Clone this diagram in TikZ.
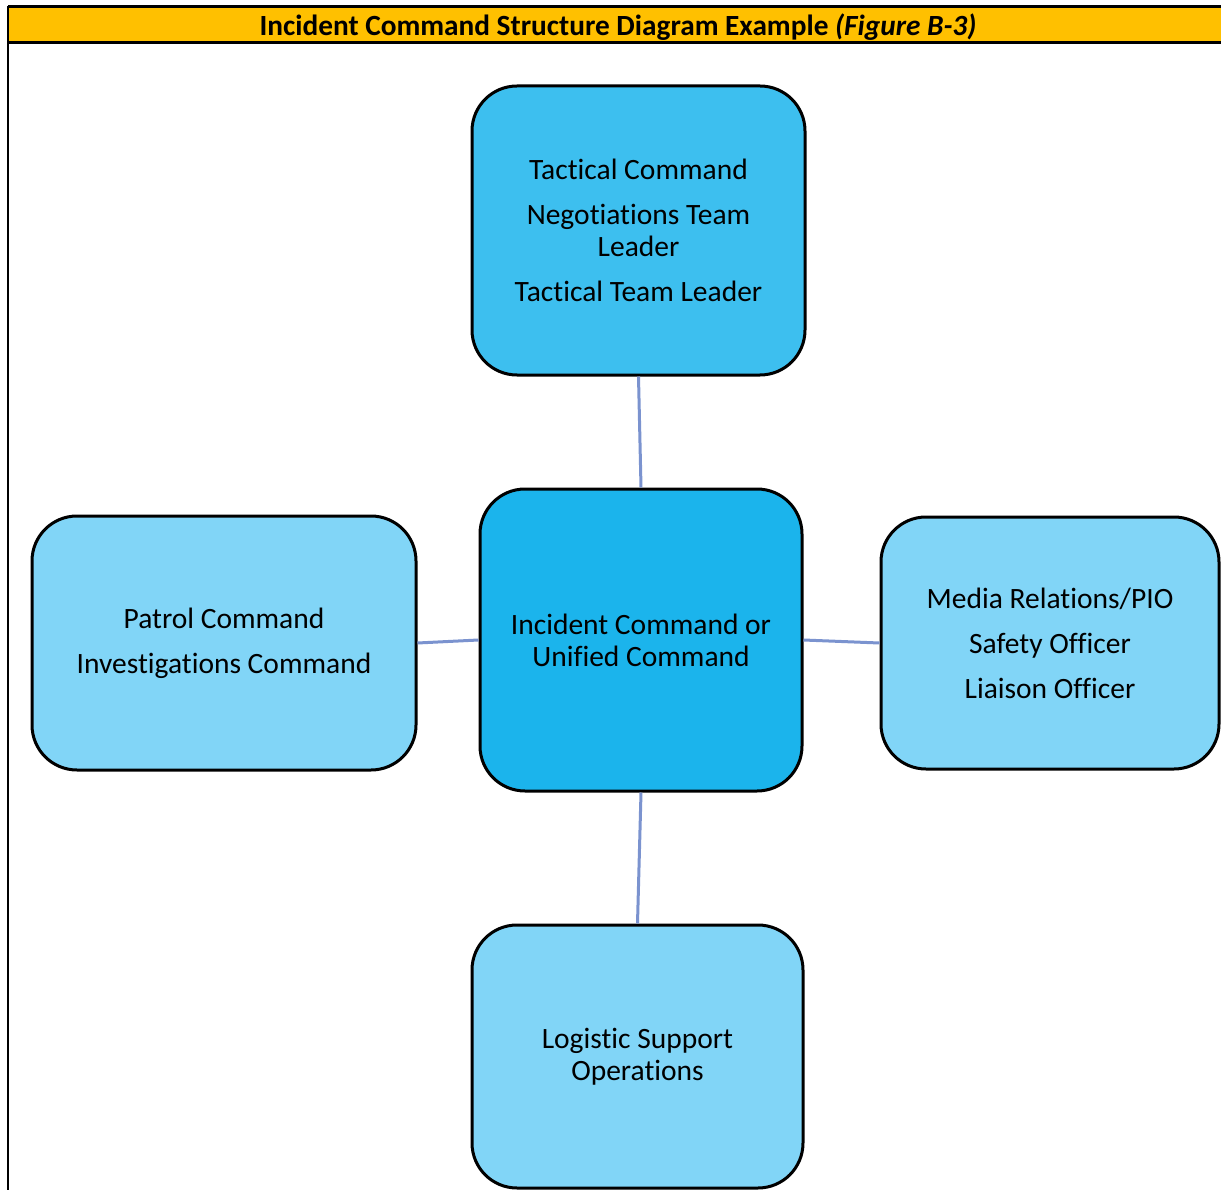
\documentclass[tikz,border=0pt]{standalone}
\usepackage{fontspec}
\setmainfont[Ligatures=NoCommon]{Carlito}
\definecolor{hdr}{HTML}{FFC000}
\definecolor{topfill}{HTML}{3DBFEF}
\definecolor{midfill}{HTML}{1BB4EC}
\definecolor{sidefill}{HTML}{81D5F7}
\definecolor{linkcol}{HTML}{7B93CF}
\tikzset{
  box/.style={draw=black, line width=3pt, rounded corners=45pt, align=center,
    inner sep=0pt, font=\fontsize{29.5}{32}\selectfont},
  link/.style={draw=linkcol, line width=3pt},
}
\begin{document}
\begin{tikzpicture}[x=1pt,y=-1pt]
\useasboundingbox (0,0) rectangle (1221,1190);
\begin{scope}
\clip (0,0) rectangle (1221,1190);
\fill[hdr] (8,7) rectangle (1230,43);
\draw[line width=3pt] (8,7) -- (1230,7);
\draw[line width=3pt] (8,43) -- (1230,43);
\draw[line width=2.5pt] (8,6) -- (8,1195);
\end{scope}
\node[font=\fontsize{29.3}{30}\selectfont\bfseries] (title) at (618,27)
  {Incident Command Structure Diagram Example \textit{(Figure B-3)}};

\node[box, fill=topfill, minimum width=333pt, minimum height=289pt] (tac) at (638.5,230.5)
  {Tactical Command\\[13pt]Negotiations Team\\Leader\\[13pt]Tactical Team Leader};
\node[box, fill=midfill, minimum width=322pt, minimum height=302pt] (ic) at (641,640)
  {Incident Command or\\Unified Command};
\node[box, fill=sidefill, minimum width=384pt, minimum height=254pt] (pat) at (224,643)
  {Patrol Command\\[13pt]Investigations Command};
\node[box, fill=sidefill, minimum width=338pt, minimum height=252pt] (med) at (1050,643)
  {Media Relations/PIO\\[13pt]Safety Officer\\[13pt]Liaison Officer};
\node[box, fill=sidefill, minimum width=331pt, minimum height=263pt] (log) at (637.5,1056.5)
  {Logistic Support\\Operations};

\draw[link] (tac.south) -- (ic.north);
\draw[link] (pat.east) -- (ic.west);
\draw[link] (ic.east) -- (med.west);
\draw[link] (ic.south) -- (log.north);
\end{tikzpicture}
\end{document}
